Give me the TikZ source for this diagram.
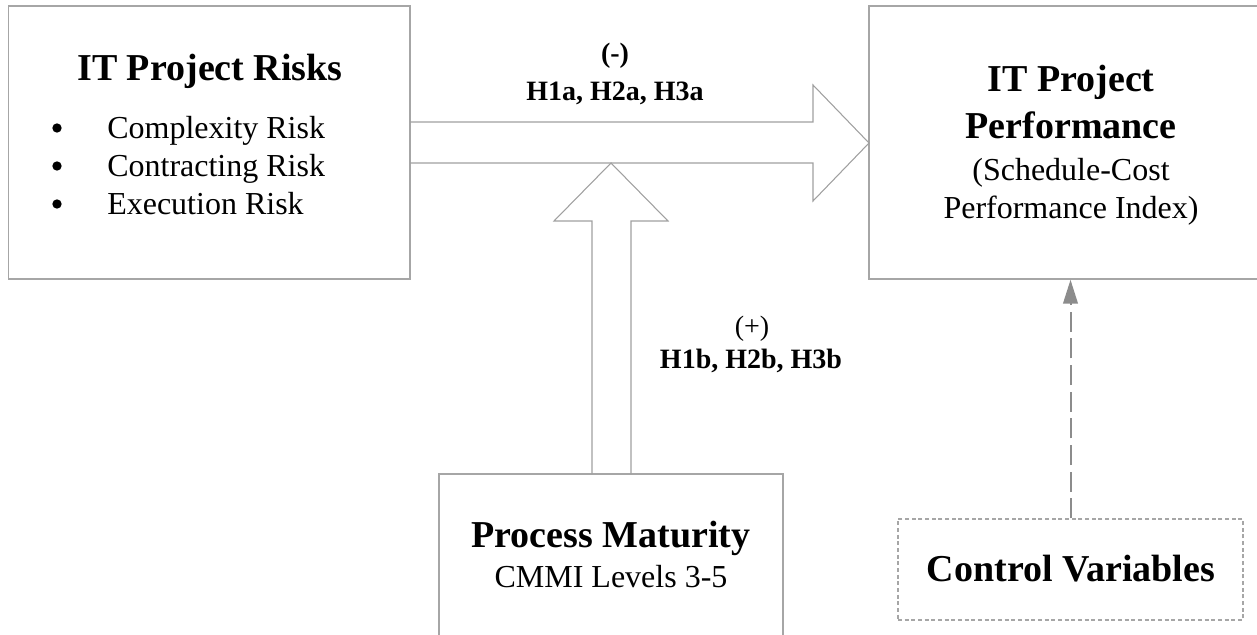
\documentclass[tikz,border=0pt]{standalone}
\usepackage{fontspec}
\setmainfont{Liberation Serif}
\usetikzlibrary{arrows.meta}
\definecolor{boxgray}{HTML}{A6A6A6}
\definecolor{arrgray}{HTML}{A0A0A0}
\definecolor{dashgray}{HTML}{8C8C8C}
\begin{document}
\begin{tikzpicture}[x=0.75pt,y=-0.75pt,
  box/.style={draw=boxgray, line width=1.1pt, inner sep=0pt},
  dbox/.style={draw=boxgray, line width=0.8pt, dash pattern=on 3pt off 2pt, inner sep=0pt},
  blockarrow/.style={draw=arrgray, line width=0.8pt, line join=miter},
  dasharrow/.style={draw=dashgray, line width=1.5pt, dash pattern=on 15pt off 5pt, -{Triangle[length=18pt,width=11pt]}},
  bul/.style={circle, fill=black, minimum size=7pt, inner sep=0pt},
  ttl/.style={font=\fontsize{28.5}{34}\selectfont\bfseries, inner sep=0pt, anchor=base},
  body/.style={font=\fontsize{24}{28}\selectfont, inner sep=0pt, anchor=base},
  lab/.style={font=\fontsize{21}{25}\selectfont\bfseries, inner sep=0pt, anchor=base},
  labr/.style={font=\fontsize{21}{25}\selectfont, inner sep=0pt, anchor=base}]
\useasboundingbox (0,0) rectangle (1257,635);
\clip (0,0) rectangle (1257,635);

% boxes
\node[box, minimum width=301.1pt, minimum height=204.75pt] (risks) at (209.25,142.5) {};
\node[box, minimum width=303pt, minimum height=204.75pt] (perf) at (1071,142.5) {};
\node[box, minimum width=258pt, minimum height=132pt] (proc) at (611,562) {};
\node[dbox, minimum width=258.75pt, minimum height=75.75pt] (ctrl) at (1070.5,569.5) {};

% block arrows
\draw[blockarrow] (410,122) -- (813,122) -- (813,85) -- (869,143) -- (813,201) -- (813,163) -- (410,163);
\draw[blockarrow] (592,474) -- (592,221) -- (554,221) -- (611,163) -- (668,221) -- (631,221) -- (631,474);

% dashed connector
\draw[dasharrow] (ctrl.north) -- (ctrl.north |- perf.south);

% texts: risks
\node[ttl] (risksT) at (210,80) {IT Project Risks};
\node[bul] (b1) at (57,128) {};
\node[bul] (b2) at (57,166) {};
\node[bul] (b3) at (57,204) {};
\node[body, anchor=base west] (r1) at (107,138) {Complexity Risk};
\node[body, anchor=base west] (r2) at (107,176) {Contracting Risk};
\node[body, anchor=base west] (r3) at (107,214) {Execution Risk};

% texts: performance
\node[ttl] (p1) at (1071,92) {IT Project};
\node[ttl] (p2) at (1071,138) {Performance};
\node[body] (p3) at (1071,180) {(Schedule-Cost};
\node[body] (p4) at (1071,218) {Performance Index)};

% texts: process maturity
\node[ttl] (m1) at (611,547) {Process Maturity};
\node[body] (m2) at (611,587) {CMMI Levels 3-5};

% texts: control
\node[ttl] (c1) at (1071,581) {Control Variables};

% hypothesis labels
\node[lab] (la1) at (615,63) {(-)};
\node[lab] (la2) at (615,100) {H1a, H2a, H3a};
\node[labr] (lb1) at (752,335) {(+)};
\node[lab] (lb2) at (751,368) {H1b, H2b, H3b};
\end{tikzpicture}
\end{document}
